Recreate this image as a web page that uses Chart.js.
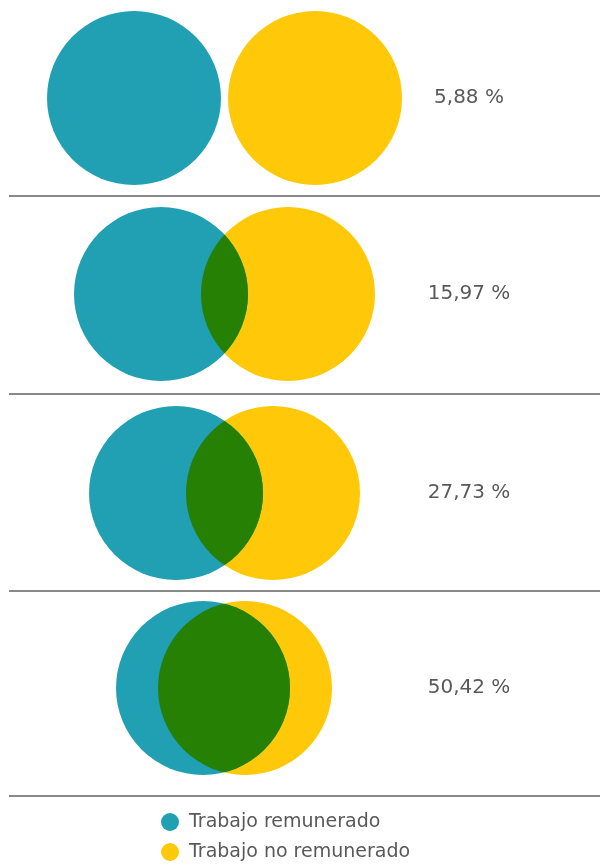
<!DOCTYPE html>
<html>
<head>
<meta charset="utf-8">
<script src="https://cdn.jsdelivr.net/npm/chart.js@4/dist/chart.umd.min.js"></script>
<style>
  html, body { margin: 0; padding: 0; background: #fff; }
  #wrap { width: 600px; height: 865px; position: relative; }
</style>
</head>
<body>
<div id="wrap"><canvas id="venn"></canvas></div>
<script>
const seriesLabels = ['Trabajo remunerado', 'Trabajo no remunerado']
const rowY = [98, 294, 493, 688]
const paidX = [134, 161, 176, 203]
const unpaidX = [315, 288, 273, 245]
const radius = [87, 87, 87, 87]
const overlapLabels = ['5,88 %', '15,97 %', '27,73 %', '50,42 %']
const separatorY = [196, 394, 591, 796]

const teal = 'rgb(33, 159, 179)'
const yellow = 'rgb(255, 200, 8)'
const green = 'rgb(37, 128, 4)'
const textColor = '#595959'
const fontFamily = '"DejaVu Sans", sans-serif'

const vennPlugin = {
  id: 'venn',
  afterDatasetsDraw: (chart) => {
    const ctx = chart.ctx
    const a = chart.getDatasetMeta(0).data
    const b = chart.getDatasetMeta(1).data
    const x = chart.scales.x
    const y = chart.scales.y
    // intersection
    a.forEach((pa, i) => {
      const pb = b[i]
      ctx.save()
      ctx.beginPath()
      ctx.arc(pa.x, pa.y, pa.options.radius, 0, Math.PI * 2)
      ctx.clip()
      ctx.beginPath()
      ctx.arc(pb.x, pb.y, pb.options.radius, 0, Math.PI * 2)
      ctx.fillStyle = green
      ctx.fill()
      ctx.restore()
    })
    // separators
    ctx.save()
    ctx.strokeStyle = '#888888'
    ctx.lineWidth = 2
    separatorY.forEach((v) => {
      const py = Math.round(y.getPixelForValue(v))
      ctx.beginPath()
      ctx.moveTo(x.getPixelForValue(9), py)
      ctx.lineTo(x.getPixelForValue(600), py)
      ctx.stroke()
    })
    // percentages
    ctx.fillStyle = textColor
    ctx.font = '20px ' + fontFamily
    ctx.textAlign = 'center'
    ctx.textBaseline = 'middle'
    overlapLabels.forEach((t, i) => {
      ctx.fillText(t, x.getPixelForValue(469), y.getPixelForValue(rowY[i]))
    })
    // legend
    const colors = [teal, yellow]
    const legendY = [822, 852]
    ctx.font = '19px ' + fontFamily
    ctx.textAlign = 'left'
    seriesLabels.forEach((t, i) => {
      const py = y.getPixelForValue(legendY[i])
      ctx.beginPath()
      ctx.arc(x.getPixelForValue(170), py, 9, 0, Math.PI * 2)
      ctx.fillStyle = colors[i]
      ctx.fill()
      ctx.fillStyle = textColor
      ctx.fillText(t, x.getPixelForValue(189), py)
    })
    ctx.restore()
  },
}

const toPoints = (xs) => xs.map((v, i) => ({ x: v, y: rowY[i], r: radius[i] }))

new Chart(document.getElementById('venn').getContext('2d'), {
  type: 'bubble',
  data: {
    datasets: [
      {
        label: seriesLabels[0],
        data: toPoints(paidX),
        backgroundColor: teal,
        borderWidth: 0,
      },
      {
        label: seriesLabels[1],
        data: toPoints(unpaidX),
        backgroundColor: yellow,
        borderWidth: 0,
      },
    ],
  },
  options: {
    responsive: true,
    maintainAspectRatio: false,
    animation: false,
    clip: false,
    layout: { padding: 0, autoPadding: false },
    plugins: {
      legend: { display: false },
      tooltip: { enabled: false },
    },
    scales: {
      x: { type: 'linear', min: 0, max: 600, display: false },
      y: { type: 'linear', min: 0, max: 865, reverse: true, display: false },
    },
  },
  plugins: [vennPlugin],
})
</script>
</body>
</html>
